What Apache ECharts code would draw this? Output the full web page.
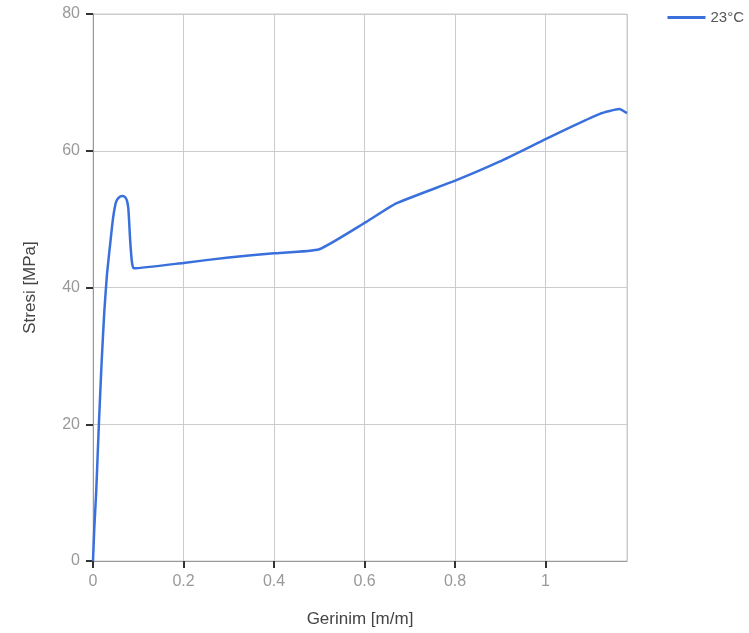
<!DOCTYPE html>
<html><head><meta charset="utf-8">
<script src="https://cdn.jsdelivr.net/npm/echarts@6/dist/echarts.min.js"></script>
<style>html,body{margin:0;padding:0;background:#fff}#c{width:749px;height:633px}</style>
</head><body><div id="c"></div>
<script>
const strain = [0, 0.003, 0.007, 0.013, 0.019, 0.025, 0.031, 0.039, 0.044, 0.049, 0.053, 0.060, 0.066, 0.071, 0.075, 0.078, 0.080, 0.082, 0.086, 0.090, 0.2, 0.3, 0.4, 0.5, 0.604, 0.67, 0.803, 0.898, 1.0, 1.06, 1.12, 1.163, 1.18];
const stress = [0, 5, 10, 20, 29, 36.5, 42, 47, 50, 52, 52.8, 53.3, 53.4, 53.2, 52.7, 51.6, 49.5, 47, 43.7, 42.8, 43.6, 44.4, 45.0, 45.6, 49.6, 52.3, 55.7, 58.4, 61.7, 63.6, 65.4, 66.1, 65.5];
const seriesName = '23°C';
const xName = 'Gerinim [m/m]';
const yName = 'Stresi [MPa]';

const chart = echarts.init(document.getElementById('c'));
const font = 'Liberation Sans, Arial, sans-serif';
chart.setOption({
  animation: false,
  grid: {left: 93, right: 122, top: 14, bottom: 72, show: true, borderColor: '#ccc', borderWidth: 1},
  legend: {right: 0, top: 5, itemWidth: 38, itemHeight: 10, itemGap: 4,
    textStyle: {fontFamily: font, fontSize: 15, color: '#555'},
    data: [{name: seriesName, icon: 'path://M0,3.5L38,3.5L38,6.5L0,6.5Z'}]},
  xAxis: {type: 'value', min: 0, max: 1.18, interval: 0.2,
    name: xName, nameLocation: 'middle', nameGap: 50,
    nameTextStyle: {fontFamily: font, fontSize: 17, color: '#444'},
    axisLine: {show: true, onZero: false, lineStyle: {color: '#999'}},
    axisTick: {show: true, length: 7, lineStyle: {color: '#333', width: 2}},
    axisLabel: {fontFamily: font, fontSize: 16, color: '#999', margin: 13, showMaxLabel: false},
    splitLine: {show: true, lineStyle: {color: '#ccc'}}},
  yAxis: {type: 'value', min: 0, max: 80, interval: 20,
    name: yName, nameLocation: 'middle', nameGap: 54,
    nameTextStyle: {fontFamily: font, fontSize: 17, color: '#444'},
    axisLine: {show: true, lineStyle: {color: '#999'}},
    axisTick: {show: true, length: 7, lineStyle: {color: '#333', width: 2}},
    axisLabel: {fontFamily: font, fontSize: 16, color: '#999', margin: 13},
    splitLine: {show: true, lineStyle: {color: '#ccc'}}},
  series: [{name: seriesName, type: 'line', data: strain.map((x, i) => [x, stress[i]]),
    showSymbol: false, smooth: 0.15, lineStyle: {color: '#3a70dc', width: 2.5}, itemStyle: {color: '#3a70dc'}}]
});
</script></body></html>
